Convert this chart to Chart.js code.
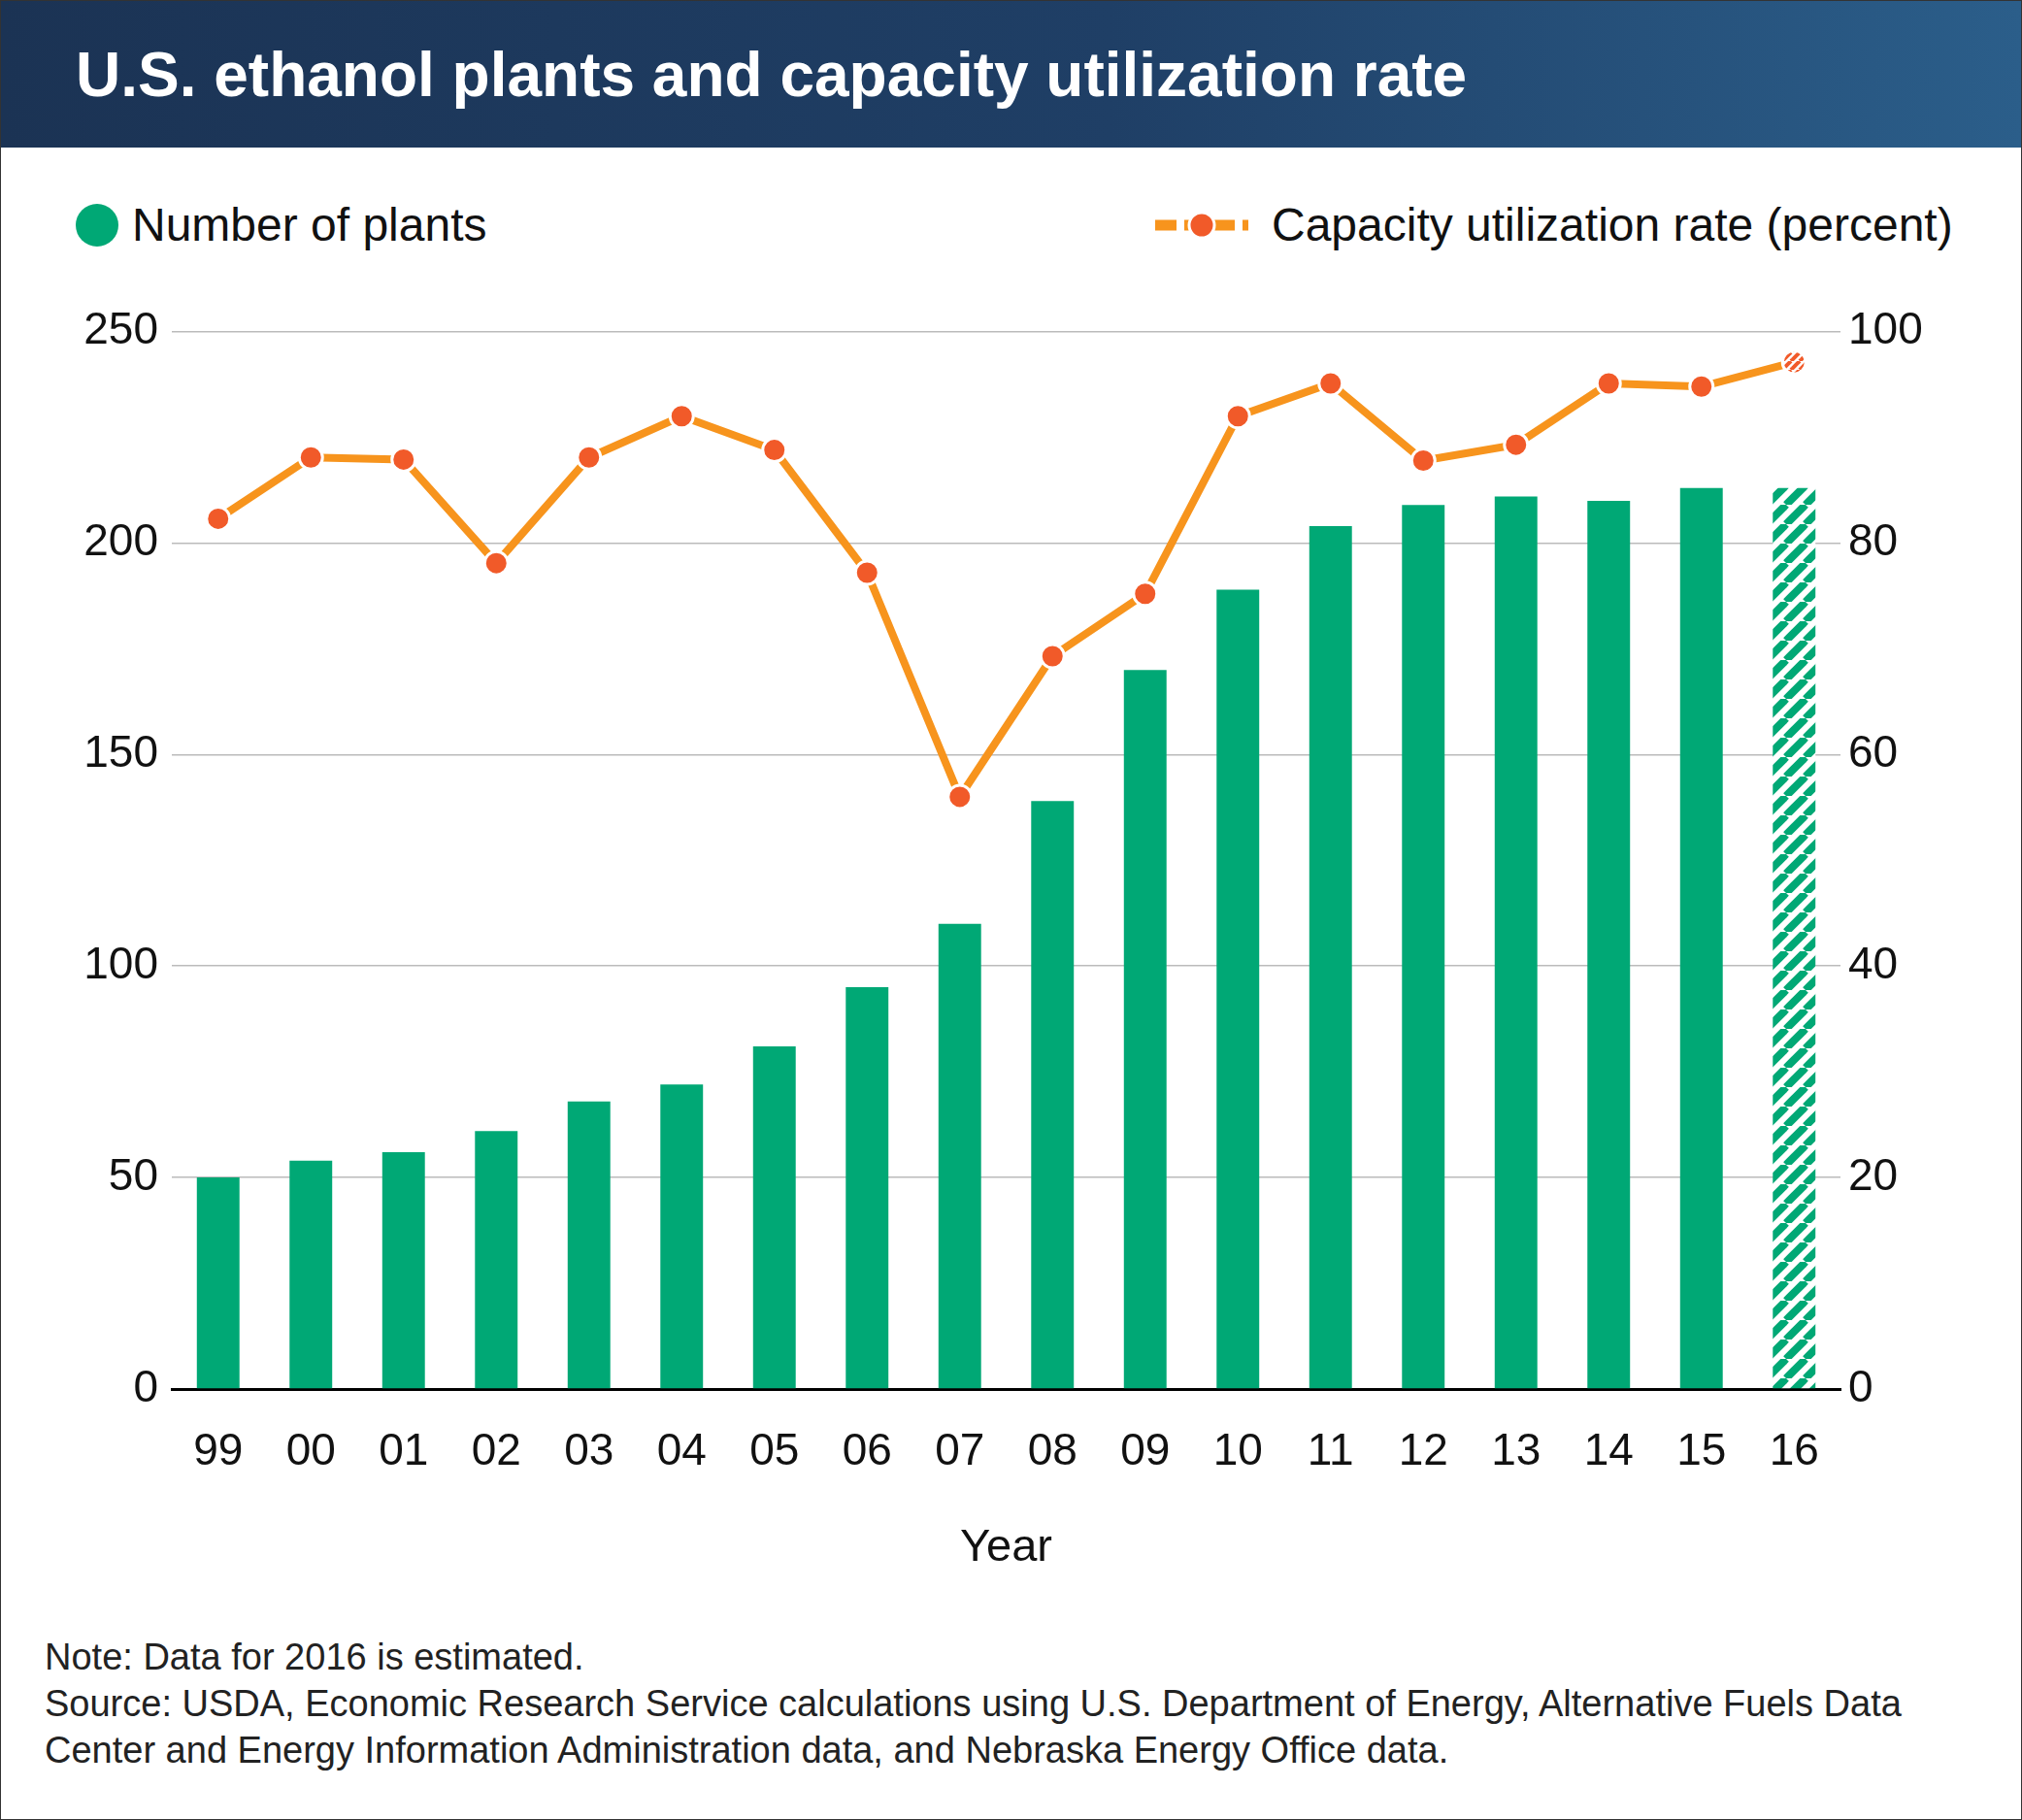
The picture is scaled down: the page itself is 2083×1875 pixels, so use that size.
<!DOCTYPE html>
<html><head><meta charset="utf-8">
<script src="https://cdn.jsdelivr.net/npm/chart.js@4"></script>
<style>
body{margin:0;width:2083px;height:1875px;background:#fff;font-family:"Liberation Sans",Arial,sans-serif;position:relative;overflow:hidden}
#head{position:absolute;left:0;top:0;width:2083px;height:152px;background:linear-gradient(90deg,#1b3354 0%,#1f3f66 55%,#2b5e8a 100%)}
#head h1{margin:0;position:absolute;left:78px;top:40px;color:#fff;font-size:64px;font-weight:bold}
.leg{position:absolute;top:204px;font-size:48px;color:#111;display:flex;align-items:center}
#wrap{position:absolute;left:0;top:300px;width:2083px;height:1327px}
#notes{position:absolute;left:46px;top:1683px;font-size:38px;line-height:48px;color:#222}
#frame{position:absolute;left:0;top:0;width:2081px;height:1873px;border:1px solid #333;pointer-events:none}
</style></head>
<body>
<div id="head"><h1>U.S. ethanol plants and capacity utilization rate</h1></div>
<div class="leg" style="left:78px"><span style="display:inline-block;width:44px;height:44px;border-radius:50%;background:#00a875;margin-right:14px"></span>Number of plants</div>
<div class="leg" style="left:1186px"><svg width="104" height="40" style="margin-right:20px"><line x1="4" y1="20" x2="100" y2="20" stroke="#f7941d" stroke-width="11" stroke-dasharray="22 8"/><circle cx="52" cy="20" r="13" fill="#f15a29" stroke="#fff" stroke-width="3"/></svg>Capacity utilization rate (percent)</div>
<div id="wrap"><canvas id="c"></canvas></div>
<div id="notes">Note: Data for 2016 is estimated.<br>Source: USDA, Economic Research Service calculations using U.S. Department of Energy, Alternative Fuels Data<br>Center and Energy Information Administration data, and Nebraska Energy Office data.</div>
<div id="frame"></div>
<script>
const years = ['99','00','01','02','03','04','05','06','07','08','09','10','11','12','13','14','15','16'];
const plants = [50,54,56,61,68,72,81,95,110,139,170,189,204,209,211,210,213,213];
const utilization = [82.3,88.1,87.9,78.1,88.1,92.0,88.8,77.2,56.0,69.3,75.2,92.0,95.1,87.8,89.3,95.1,94.8,97.1];
const leftTicks = [0,50,100,150,200,250];

function stripes(bg, fg, size, lw){
  const p = document.createElement('canvas'); p.width = size; p.height = size;
  const g = p.getContext('2d');
  g.fillStyle = bg; g.fillRect(0,0,size,size);
  g.strokeStyle = fg; g.lineWidth = lw;
  for(let k=-1;k<=1;k++){ g.beginPath(); g.moveTo(k*size, size); g.lineTo(k*size+size, 0); g.stroke(); }
  return g.createPattern(p, 'repeat');
}
const ctx = document.getElementById('c').getContext('2d');
const barHatch = stripes('#ffffff', '#00a875', 20, 8);
const dotHatch = stripes('#ffffff', '#f15a29', 9, 4);
const green = '#00a875';
const tickFont = {size:46, family:'Liberation Sans'};

new Chart(ctx, {
  data: {
    labels: years,
    datasets: [
      { type:'line', data: utilization, yAxisID:'y2', borderColor:'#f7941d', borderWidth:8,
        pointRadius:12, pointHoverRadius:12, pointBorderColor:'#fff', pointBorderWidth:3,
        pointBackgroundColor: utilization.map((v,i)=> i===utilization.length-1 ? dotHatch : '#f15a29'),
        tension:0, order:0 },
      { type:'bar', data: plants, yAxisID:'y',
        backgroundColor: plants.map((v,i)=> i===plants.length-1 ? barHatch : green),
        barPercentage:0.46, categoryPercentage:1, order:1 }
    ]
  },
  options: {
    responsive:true, maintainAspectRatio:false, animation:false,
    layout:{ padding:{ top:40, left:0, right:0, bottom:0 } },
    plugins:{ legend:{display:false}, tooltip:{enabled:false} },
    scales:{
      x:{ grid:{display:false, drawTicks:false}, border:{color:'#000', width:3},
          ticks:{ color:'#111', font:tickFont, padding:38 },
          title:{ display:true, text:'Year', color:'#111', font:{size:47, family:'Liberation Sans'}, padding:{top:0} },
          afterFit(s){ s.height = 196; } },
      y:{ position:'left', min:0, max:250, afterBuildTicks(s){ s.ticks = leftTicks.map(v=>({value:v})); },
          grid:{ color:'#bbbbbb', lineWidth:1.5, drawTicks:false }, border:{display:false},
          ticks:{ color:'#111', font:tickFont, padding:14 },
          afterFit(s){ s.width = 177; } },
      y2:{ position:'right', min:0, max:100, grid:{display:false, drawTicks:false}, border:{display:false},
          ticks:{ stepSize:20, color:'#111', font:tickFont, padding:8 },
          afterFit(s){ s.width = 187; } }
    }
  }
});
</script>
</body></html>
